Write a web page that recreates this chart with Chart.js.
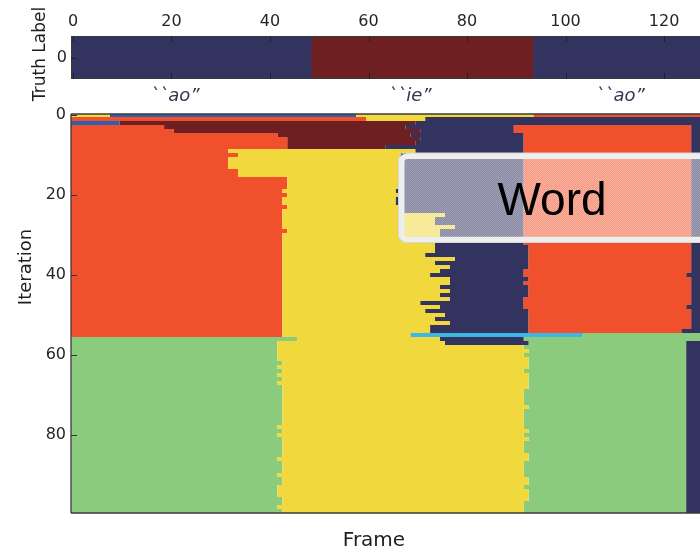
<!DOCTYPE html>
<html>
<head>
<meta charset="utf-8">
<script src="https://cdn.jsdelivr.net/npm/chart.js@4.4.1/dist/chart.umd.min.js"></script>
<style>
  html, body { margin: 0; padding: 0; background: #fff; overflow: hidden; }
  #wrap { position: relative; width: 700px; height: 549px; }
  canvas { position: absolute; left: 0; top: 0; }
</style>
</head>
<body>
<div id="wrap">
  <canvas id="main" width="700" height="549"></canvas>
  <canvas id="truth" width="700" height="112"></canvas>
</div>
<script>
// ---- axis ticks ----
const frameTicks = [0, 20, 40, 60, 80, 100, 120];
const iterationTicks = [0, 20, 40, 60, 80];
const truthTicks = [0];

// ---- state colours ----
const palette = {
  N: '#333360', // navy
  D: '#6e1f22', // dark red
  R: '#f0512c', // orange red
  Y: '#f1d83c', // yellow
  G: '#8bcb7d', // green
  B: '#2f5fb0', // blue
  C: '#3db8e2'  // cyan
};

// ---- ground truth: runs of "<state><last frame>" ----
const truthRuns = "N48 D93 N130";
const phonemeLabels = ["``ao\u201D", "``ie\u201D", "``ao\u201D"];
const phonemeLabelFrames = [20.7, 68.4, 111.1];

// ---- sampled state sequence per iteration (runs of "<state><last frame>") ----
const iterationRuns = [
  "Y7 B57 Y93 R130",            // 0
  "R59 Y71 N130",
  "B9 D69 N130",
  "R18 D67 N89 R125 N130",
  "R20 D70 N89 R125 N130",
  "R41 D68 N91 R125 N130",      // 5
  "R43 D70 N91 R125 N130",
  "R43 D69 N91 R125 N130",
  "R43 D63 N91 R125 N130",
  "R31 Y69 N91 R125 N130",
  "R33 Y66 N91 R125 N130",      // 10
  "R31 Y66 N91 R125 N130",
  "R31 Y66 N91 R125 N130",
  "R31 Y66 N91 R125 N130",
  "R33 Y66 N91 R125 N130",
  "R33 Y66 N91 R125 N130",      // 15
  "R43 Y66 N91 R125 N130",
  "R43 Y66 N91 R125 N130",
  "R43 Y66 N91 R125 N130",
  "R42 Y65 N91 R125 N130",
  "R43 Y66 N91 R125 N130",      // 20
  "R42 Y65 N91 R125 N130",
  "R42 Y65 N91 R125 N130",
  "R43 Y66 N91 R125 N130",
  "R42 Y66 N91 R125 N130",
  "R42 Y75 N91 R125 N130",      // 25
  "R42 Y73 N91 R125 N130",
  "R42 Y73 N91 R125 N130",
  "R42 Y77 N91 R125 N130",
  "R43 Y74 N91 R125 N130",
  "R42 Y74 N91 R125 N130",      // 30
  "R42 Y74 N91 R125 N130",
  "R42 Y73 N91 R125 N130",
  "R42 Y73 N92 R125 N130",
  "R42 Y73 N92 R125 N130",
  "R42 Y71 N92 R125 N130",      // 35
  "R42 Y77 N92 R125 N130",
  "R42 Y73 N92 R125 N130",
  "R42 Y76 N92 R125 N130",
  "R42 Y74 N91 R125 N130",
  "R42 Y72 N91 R124 N130",      // 40
  "R42 Y76 N92 R125 N130",
  "R42 Y76 N91 R125 N130",
  "R42 Y74 N92 R125 N130",
  "R42 Y76 N92 R125 N130",
  "R42 Y74 N92 R125 N130",      // 45
  "R42 Y76 N91 R125 N130",
  "R42 Y70 N91 R125 N130",
  "R42 Y74 N91 R124 N130",
  "R42 Y71 N92 R125 N130",
  "R42 Y75 N92 R125 N130",      // 50
  "R42 Y73 N92 R125 N130",
  "R42 Y76 N92 R125 N130",
  "R42 Y72 N92 R125 N130",
  "R42 Y72 N92 R123 N130",
  "R42 Y68 C103 G130",          // 55
  "G45 Y74 N91 G130",
  "G41 Y75 N92 G124 N130",
  "G41 Y91 G124 N130",
  "G41 Y92 G124 N130",
  "G41 Y91 G124 N130",          // 60
  "G41 Y92 G124 N130",
  "G42 Y92 G124 N130",
  "G41 Y92 G124 N130",
  "G42 Y91 G124 N130",
  "G41 Y92 G124 N130",          // 65
  "G42 Y92 G124 N130",
  "G41 Y92 G124 N130",
  "G42 Y92 G124 N130",
  "G42 Y91 G124 N130",
  "G42 Y91 G124 N130",          // 70
  "G42 Y91 G124 N130",
  "G42 Y91 G124 N130",
  "G42 Y92 G124 N130",
  "G42 Y91 G124 N130",
  "G42 Y91 G124 N130",          // 75
  "G42 Y91 G124 N130",
  "G42 Y91 G124 N130",
  "G41 Y91 G124 N130",
  "G42 Y92 G124 N130",
  "G41 Y91 G124 N130",          // 80
  "G42 Y92 G124 N130",
  "G42 Y91 G124 N130",
  "G42 Y91 G124 N130",
  "G42 Y91 G124 N130",
  "G42 Y92 G124 N130",          // 85
  "G41 Y92 G124 N130",
  "G42 Y91 G124 N130",
  "G42 Y91 G124 N130",
  "G42 Y91 G124 N130",
  "G41 Y91 G124 N130",          // 90
  "G42 Y92 G124 N130",
  "G42 Y92 G124 N130",
  "G41 Y91 G124 N130",
  "G41 Y92 G124 N130",
  "G41 Y92 G124 N130",          // 95
  "G42 Y92 G124 N130",
  "G42 Y91 G124 N130",
  "G41 Y91 G124 N130",
  "G42 Y91 G124 N130"
];

// ---- helpers ----
function parseRuns(str) {
  let start = 0;
  return str.trim().split(/\s+/).map(tok => {
    const seg = { state: tok[0], start, end: +tok.slice(1) };
    start = seg.end + 1;
    return seg;
  });
}

// one floating-bar dataset per state, each cell run spans [start-0.5, end+0.5]
function buildDatasets(rowsOfRuns) {
  const byState = {};
  rowsOfRuns.forEach((runs, row) => {
    parseRuns(runs).forEach(seg => {
      (byState[seg.state] = byState[seg.state] || []).push({ y: row, x: [seg.start - 0.5, seg.end + 0.5] });
    });
  });
  return Object.keys(byState).map(k => ({
    label: k,
    data: byState[k],
    backgroundColor: palette[k],
    borderWidth: 0,
    inflateAmount: 0,
    grouped: false,
    categoryPercentage: 1,
    barPercentage: 1
  }));
}

const FRAME_MIN = -0.4, FRAME_MAX = 127.3;
const TEXT = '#262626';
Chart.defaults.font.family = '"DejaVu Sans", sans-serif';
Chart.defaults.color = TEXT;
Chart.defaults.animation = false;

function tickLine(ctx, x1, y1, x2, y2) {
  ctx.beginPath(); ctx.moveTo(x1, y1); ctx.lineTo(x2, y2); ctx.stroke();
}

// ---- main chart: iterations x frames ----
const mainDecor = {
  id: 'mainDecor',
  afterDraw(chart) {
    const { ctx, chartArea: a, scales } = chart;
    ctx.save();
    // axes frame
    ctx.strokeStyle = '#3a3a3a';
    ctx.lineWidth = 1.3;
    tickLine(ctx, a.left, a.top, a.left, a.bottom);
    tickLine(ctx, a.left, a.top, a.right, a.top);
    tickLine(ctx, a.left, a.bottom, a.right, a.bottom);
    // inward ticks
    ctx.lineWidth = 1;
    ctx.strokeStyle = '#333';
    iterationTicks.forEach(v => {
      const y = Math.round(scales.y.getPixelForValue(v)) + 0.5;
      tickLine(ctx, a.left, y, a.left + 6, y);
    });
    // axis titles
    ctx.fillStyle = '#1e1e1e';
    ctx.font = '18px "DejaVu Sans"';
    ctx.textAlign = 'center';
    ctx.textBaseline = 'middle';
    ctx.save();
    ctx.translate(26, 267);
    ctx.rotate(-Math.PI / 2);
    ctx.fillText('Iteration', 0, 0);
    ctx.restore();
    ctx.font = '20px "DejaVu Sans"';
    ctx.textBaseline = 'alphabetic';
    ctx.fillText('Frame', 374, 546);

    // "Word" call-out box: translucent stippled panel with a light frame
    const ox = 398.5, oy = 153, ow = 340, oh = 89.5, r = 6;
    ctx.beginPath();
    ctx.roundRect(ox + 5, oy + 5, ow - 10, oh - 11, 2);
    ctx.fillStyle = 'rgba(255,255,255,0.42)';
    ctx.fill();
    const pc = document.createElement('canvas');
    pc.width = 2; pc.height = 2;
    const pctx = pc.getContext('2d');
    pctx.fillStyle = 'rgba(255,255,255,0.22)';
    pctx.fillRect(0, 0, 1, 1);
    pctx.fillRect(1, 1, 1, 1);
    ctx.fillStyle = ctx.createPattern(pc, 'repeat');
    ctx.fill();
    ctx.lineWidth = 6;
    ctx.strokeStyle = '#eeeeee';
    ctx.beginPath();
    ctx.roundRect(ox + 3, oy + 3, ow - 6, oh - 6, r);
    ctx.stroke();
    ctx.lineWidth = 1;
    ctx.strokeStyle = '#d6d6d6';
    ctx.beginPath();
    ctx.roundRect(ox, oy, ow, oh, r);
    ctx.stroke();
    ctx.fillStyle = '#000';
    ctx.font = '46px "Liberation Sans"';
    ctx.textAlign = 'center';
    ctx.textBaseline = 'alphabetic';
    ctx.fillText('Word', 552, 215);
    ctx.restore();
  }
};

new Chart(document.getElementById('main'), {
  type: 'bar',
  data: { datasets: buildDatasets(iterationRuns) },
  options: {
    responsive: false,
    indexAxis: 'y',
    events: [],
    layout: { padding: { top: 114, bottom: 36, left: 0, right: 0 } },
    plugins: { legend: { display: false }, tooltip: { enabled: false } },
    scales: {
      x: {
        type: 'linear', min: FRAME_MIN, max: FRAME_MAX,
        display: false
      },
      y: {
        type: 'linear', reverse: true, min: -0.25, max: 99.5,
        offset: false,
        grid: { display: false, drawTicks: false, offset: false },
        border: { display: false },
        afterBuildTicks: s => { s.ticks = iterationTicks.map(v => ({ value: v })); },
        afterFit: s => { s.width = 71; },
        ticks: { font: { size: 16 }, color: TEXT, padding: 5 }
      }
    }
  },
  plugins: [mainDecor]
});

// ---- ground-truth strip ----
const truthDecor = {
  id: 'truthDecor',
  afterDraw(chart) {
    const { ctx, chartArea: a, scales } = chart;
    ctx.save();
    ctx.strokeStyle = '#3a3a3a';
    ctx.lineWidth = 1;
    ctx.strokeRect(a.left + 0.5, a.top + 0.5, a.right - a.left + 5, a.bottom - a.top - 1);
    ctx.strokeStyle = '#222';
    frameTicks.forEach(v => {
      const x = Math.round(scales.x.getPixelForValue(v)) + 0.5;
      tickLine(ctx, x, a.top, x, a.top + 6);
      tickLine(ctx, x, a.bottom, x, a.bottom - 6);
    });
    truthTicks.forEach(v => {
      const y = Math.round(scales.y.getPixelForValue(v)) + 0.5;
      tickLine(ctx, a.left, y, a.left + 6, y);
    });
    // phoneme labels
    ctx.fillStyle = '#33364f';
    ctx.font = 'italic 18px "DejaVu Sans"';
    ctx.textAlign = 'center';
    ctx.textBaseline = 'alphabetic';
    phonemeLabels.forEach((t, i) => {
      ctx.fillText(t, scales.x.getPixelForValue(phonemeLabelFrames[i]), 101);
    });
    // y-axis title
    ctx.fillStyle = '#1e1e1e';
    ctx.font = '17px "DejaVu Sans"';
    ctx.textBaseline = 'middle';
    ctx.translate(41, 54);
    ctx.rotate(-Math.PI / 2);
    ctx.fillText('Truth Label', 0, 0);
    ctx.restore();
  }
};

const truthData = parseRuns(truthRuns);
new Chart(document.getElementById('truth'), {
  type: 'bar',
  data: {
    datasets: [{
      label: 'truth',
      data: truthData.map(s => ({ y: 0, x: [s.start - 0.5, s.end + 0.5] })),
      backgroundColor: truthData.map(s => palette[s.state]),
      borderWidth: 0,
      grouped: false,
      categoryPercentage: 1,
      barPercentage: 1
    }]
  },
  options: {
    responsive: false,
    indexAxis: 'y',
    events: [],
    layout: { padding: { top: 0, bottom: 33, left: 0, right: 0 } },
    plugins: { legend: { display: false }, tooltip: { enabled: false } },
    scales: {
      x: {
        type: 'linear', position: 'top', min: FRAME_MIN, max: FRAME_MAX,
        grid: { display: false, drawTicks: false },
        border: { display: false },
        afterBuildTicks: s => { s.ticks = frameTicks.map(v => ({ value: v })); },
        afterFit: s => { s.height = 36; },
        ticks: { font: { size: 16 }, color: TEXT, padding: 5, maxRotation: 0 }
      },
      y: {
        type: 'linear', min: -0.5, max: 0.5,
        offset: false,
        grid: { display: false, drawTicks: false, offset: false },
        border: { display: false },
        afterBuildTicks: s => { s.ticks = truthTicks.map(v => ({ value: v })); },
        afterFit: s => { s.width = 71; },
        ticks: { font: { size: 16 }, color: TEXT, padding: 4 }
      }
    }
  },
  plugins: [truthDecor]
});
</script>
</body>
</html>
